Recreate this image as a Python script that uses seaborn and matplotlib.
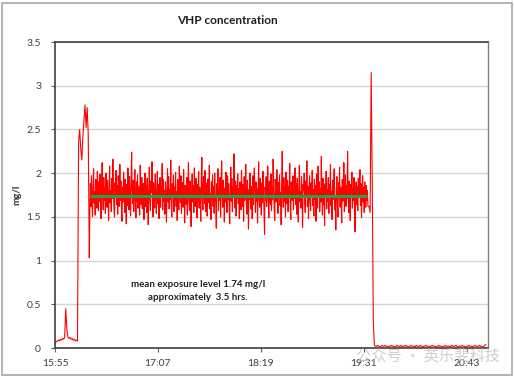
import numpy as np
import pandas as pd
import matplotlib
matplotlib.use("Agg")
import matplotlib.pyplot as plt
from matplotlib.patches import Rectangle
import seaborn as sns

# background before injection (from 15:55, every 0.75 min)
pre_start, pre_step = 0.0, 0.75
pre_values = [0.04, 0.07, 0.08, 0.09, 0.08, 0.10, 0.09, 0.11, 0.10, 0.12, 0.45,
              0.22, 0.13, 0.11, 0.12, 0.10, 0.11, 0.09, 0.10, 0.08, 0.09, 0.08]
# conditioning peak then dip
peak_start, peak_step = 16.5, 0.75
peak_values = [2.35, 2.50, 2.28, 2.15, 2.42, 2.60, 2.78, 2.52, 2.75, 2.45, 1.03]
# exposure plateau (every 0.375 min)
plateau_start, plateau_step = 24.375, 0.375
plateau_values = [
    1.55, 1.88, 1.62, 1.97, 1.70, 1.50, 1.84, 2.05, 1.66, 1.79, 1.52, 1.93, 1.74, 1.60, 2.02, 1.81, 1.57, 1.90, 1.68, 1.99,
    1.63, 1.48, 1.86, 2.12, 1.75, 1.58, 1.95, 1.69, 1.83, 1.54, 2.00, 1.77, 1.61, 1.92, 1.72, 1.46, 1.85, 2.08, 1.66, 1.80,
    1.56, 1.94, 1.71, 2.16, 1.82, 1.59, 1.50, 1.89, 1.73, 2.03, 1.64, 1.86, 1.53, 1.97, 1.78, 1.62, 2.10, 1.69, 1.91, 1.57,
    1.45, 1.84, 1.67, 2.01, 1.76, 1.55, 1.93, 1.70, 1.42, 1.87, 1.63, 2.06, 1.79, 1.58, 1.96, 1.74, 1.51, 1.88, 2.24, 1.81,
    1.65, 1.92, 1.56, 1.83, 2.04, 1.71, 1.49, 1.90, 1.68, 1.98, 1.60, 1.85, 1.73, 1.52, 2.09, 1.80, 1.64, 1.95, 1.59, 1.77,
    1.88, 1.47, 1.72, 2.00, 1.62, 1.86, 1.55, 1.94, 1.75, 1.41, 1.82, 2.07, 1.69, 1.57, 1.91, 1.78, 2.13, 1.66, 1.50, 1.89,
    1.74, 1.60, 1.99, 1.83, 1.54, 1.70, 2.02, 1.65, 1.87, 1.48, 1.79, 1.95, 1.61, 1.84, 1.72, 2.11, 1.58, 1.93, 1.68, 1.80,
    1.53, 1.90, 1.76, 1.44, 1.85, 2.05, 1.67, 1.96, 1.59, 1.81, 1.70, 2.15, 1.63, 1.50, 1.88, 1.75, 1.98, 1.56, 1.84, 1.69,
    2.01, 1.62, 1.79, 1.46, 1.93, 1.73, 1.58, 2.08, 1.82, 1.66, 1.97, 1.54, 1.76, 1.89, 1.61, 2.04, 1.71, 1.43, 1.86, 1.78,
    1.64, 1.95, 1.52, 1.83, 2.12, 1.70, 1.57, 1.91, 1.74, 1.39, 1.80, 1.99, 1.67, 1.86, 1.55, 2.06, 1.73, 1.62, 1.94, 1.77,
    1.49, 1.87, 1.68, 2.02, 1.60, 1.84, 1.75, 1.45, 1.92, 2.18, 1.71, 1.58, 1.96, 1.81, 1.65, 2.03, 1.56, 1.89, 1.74, 1.51,
    1.93, 1.66, 1.82, 2.09, 1.59, 1.77, 1.47, 1.90, 1.70, 1.98, 1.62, 1.85, 1.54, 2.00, 1.76, 1.64, 1.37, 1.88, 1.72, 2.05,
    1.57, 1.81, 1.69, 1.95, 1.50, 1.86, 2.14, 1.73, 1.61, 1.92, 1.78, 1.44, 1.83, 1.67, 2.01, 1.75, 1.55, 1.97, 1.70, 1.88,
    1.63, 1.42, 1.80, 2.07, 1.68, 1.94, 1.56, 1.84, 1.74, 2.22, 1.79, 1.60, 1.91, 1.51, 1.86, 1.71, 1.99, 1.65, 1.82, 1.48,
    1.90, 1.73, 1.58, 2.03, 1.77, 1.62, 1.87, 1.45, 1.96, 1.69, 1.83, 2.10, 1.66, 1.53, 1.92, 1.76, 1.36, 1.81, 1.70, 2.00,
    1.59, 1.85, 1.72, 1.48, 1.97, 1.64, 1.88, 2.06, 1.75, 1.55, 1.90, 1.68, 1.82, 1.43, 1.79, 2.13, 1.71, 1.61, 1.94, 1.77,
    1.52, 1.89, 1.66, 2.02, 1.74, 1.58, 1.30, 1.84, 1.69, 1.96, 1.62, 1.80, 2.08, 1.73, 1.49, 1.91, 1.76, 1.64, 1.99, 1.57,
    1.83, 1.70, 2.16, 1.87, 1.60, 1.46, 1.93, 1.75, 1.67, 2.04, 1.81, 1.54, 1.89, 1.72, 1.98, 1.63, 1.78, 1.41, 1.86, 2.25,
    1.76, 1.61, 1.95, 1.68, 1.84, 1.50, 2.01, 1.79, 1.65, 1.92, 1.56, 1.85, 1.73, 2.11, 1.62, 1.47, 1.90, 1.77, 1.69, 1.97,
    1.58, 1.82, 1.71, 2.06, 1.64, 1.88, 1.53, 1.94, 1.75, 1.44, 1.83, 2.09, 1.67, 1.79, 1.60, 1.96, 1.72, 1.38, 1.87, 1.80,
    2.00, 1.66, 1.55, 1.91, 1.74, 2.14, 1.62, 1.85, 1.48, 1.78, 1.97, 1.69, 1.57, 1.89, 1.76, 2.03, 1.63, 1.81, 1.51, 1.93,
    1.70, 1.86, 1.45, 1.99, 1.77, 1.60, 2.08, 1.73, 1.90, 1.56, 1.82, 1.67, 2.19, 1.75, 1.52, 1.94, 1.64, 1.84, 1.40, 1.88,
    1.72, 2.02, 1.59, 1.81, 1.68, 1.95, 1.54, 1.87, 1.76, 2.10, 1.63, 1.79, 1.47, 1.92, 1.70, 1.85, 2.05, 1.58, 1.74, 1.35,
    1.83, 1.96, 1.65, 1.50, 1.89, 1.73, 2.07, 1.61, 1.84, 1.77, 1.43, 1.93, 1.68, 1.80, 2.12, 1.56, 1.75, 1.98, 1.62, 1.86,
    1.71, 2.25, 1.79, 1.55, 1.91, 1.66, 1.46, 1.87, 1.74, 2.01, 1.60, 1.82, 1.69, 1.95, 1.52, 1.33, 1.78, 1.90, 1.64, 1.85,
    1.57, 1.94, 1.72, 1.81, 2.04, 1.63, 1.88, 1.49, 1.76, 1.97, 1.67, 1.84, 1.55, 1.90, 1.73, 1.61, 1.86, 1.69, 1.80, 1.62,
]
# aeration spike and fall-off
spike_start, spike_step = 219.75, 0.75
spike_values = [1.62, 1.55, 3.15, 1.90, 0.30]
post_start, post_step = 223.5, 0.75
post_values = [
    0.03, 0.02, 0.02, 0.03, 0.02, 0.01, 0.02, 0.03, 0.02, 0.02, 0.03, 0.02, 0.01, 0.02, 0.02,
    0.02, 0.03, 0.02, 0.02, 0.01, 0.02, 0.03, 0.02, 0.02, 0.02, 0.03, 0.01, 0.02, 0.02, 0.03,
    0.02, 0.02, 0.01, 0.02, 0.03, 0.02, 0.02, 0.02, 0.01, 0.03, 0.02, 0.02, 0.02, 0.03, 0.02,
    0.01, 0.02, 0.02, 0.03, 0.02, 0.02, 0.01, 0.02, 0.02, 0.03, 0.02, 0.02, 0.02, 0.01, 0.02,
    0.03, 0.02, 0.02, 0.02, 0.01, 0.02, 0.03, 0.02, 0.02, 0.02, 0.02, 0.01, 0.03, 0.02, 0.02,
    0.02, 0.03, 0.02, 0.01, 0.02, 0.02, 0.02, 0.03, 0.02, 0.02, 0.01, 0.02, 0.02, 0.03, 0.02,
    0.02, 0.02, 0.01, 0.02, 0.03, 0.02, 0.02, 0.02, 0.03, 0.02, 0.02, 0.01, 0.02, 0.03, 0.04,
]

mean_level = 1.74
mean_start_min = 24.5
mean_end_min = 218
tick_minutes = [0, 72, 144, 216, 288]
tick_labels = ["15:55", "17:07", "18:19", "19:31", "20:43"]
y_ticks = [0, 0.5, 1, 1.5, 2, 2.5, 3, 3.5]
y_ticklabels = ["0", "0.5", "1", "1.5", "2", "2.5", "3", "3.5"]


def segment(start, step, values):
    return pd.DataFrame({"minute": start + np.arange(len(values)) * step, "mgl": values})


df = pd.concat([segment(pre_start, pre_step, pre_values),
                segment(peak_start, peak_step, peak_values),
                segment(plateau_start, plateau_step, plateau_values),
                segment(spike_start, spike_step, spike_values),
                segment(post_start, post_step, post_values)], ignore_index=True)

sns.set_theme(style="white")
plt.rcParams["font.family"] = ["Lato", "DejaVu Sans"]
plt.rcParams["path.simplify"] = False   # keep every noisy sample visible

fig = plt.figure(figsize=(5.14, 3.78), dpi=100)
ax = fig.add_axes([55 / 514, 1 - 348 / 378, 433 / 514, 306 / 378])

sns.lineplot(data=df, x="minute", y="mgl", color="#ff0000", lw=0.8,
             estimator=None, sort=False, ax=ax, zorder=2)
# mean exposure line on top of the noisy trace
ax.plot([mean_start_min, mean_end_min], [mean_level, mean_level],
        color="#2a9d45", lw=2.2, solid_capstyle="butt", zorder=10)

ax.set_xlim(0, 303)
ax.set_ylim(0, 3.5)
ax.set_xticks(tick_minutes)
ax.set_xticklabels(tick_labels, fontsize=7.5, color="#404040")
ax.set_yticks(y_ticks)
ax.set_yticklabels(y_ticklabels, fontsize=7.5, color="#404040")
ax.set_xlabel("")
ax.set_ylabel("mg/l", fontsize=7, fontweight="bold", color="#303030", labelpad=4)
ax.grid(axis="y", color="#d4d4d4", lw=1)
ax.grid(axis="x", visible=False)
ax.set_axisbelow(True)
ax.tick_params(axis="x", length=3, width=0.8, color="#606060", pad=5, direction="out", bottom=True)
ax.tick_params(axis="y", length=3, width=0.8, color="#606060", pad=7, direction="out", left=True)
for side in ["left", "bottom", "top"]:
    ax.spines[side].set_color("#404040")
    ax.spines[side].set_linewidth(1.2)
ax.spines["right"].set_color("#808080")
ax.spines["right"].set_linewidth(1.0)

ax.text(100, 0.73, "mean exposure level 1.74 mg/l", ha="center", va="center",
        fontsize=7, fontweight="bold", color="#202020")
ax.text(100, 0.58, "approximately  3.5 hrs.", ha="center", va="center",
        fontsize=7, fontweight="bold", color="#202020")

fig.text(227 / 514, 1 - 21 / 378, "VHP concentration", ha="center", va="center",
         fontsize=8.5, fontweight="bold", color="#202020")

fig.text(428 / 514, 1 - 356 / 378, "公众号 · 英乐斐科技", ha="center", va="center",
         fontsize=11, color="#c0c0c0", alpha=0.75,
         family=["Noto Sans CJK SC", "DejaVu Sans"])

fig.patches.append(Rectangle((2 / 514, 3 / 378), 510 / 514, 372 / 378, transform=fig.transFigure,
                             fill=False, edgecolor="#a8a8a8", lw=1.2))

fig.savefig("out.png", dpi=100)
